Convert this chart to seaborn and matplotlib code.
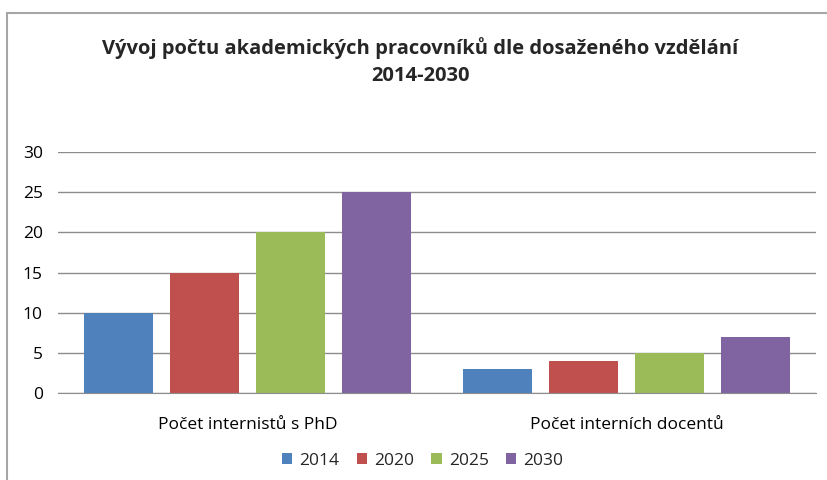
import pandas as pd
import matplotlib.pyplot as plt
import seaborn as sns
from matplotlib.patches import Rectangle

categories = ['Počet internistů s PhD', 'Počet interních docentů']
years = ['2014', '2020', '2025', '2030']
values_2014 = [10, 3]
values_2020 = [15, 4]
values_2025 = [20, 5]
values_2030 = [25, 7]
colors = ['#4F81BD', '#C0504D', '#9BBB59', '#8064A2']

rows = []
for year, vals in zip(years, [values_2014, values_2020, values_2025, values_2030]):
    for cat, v in zip(categories, vals):
        rows.append({'kategorie': cat, 'rok': year, 'hodnota': v})
df = pd.DataFrame(rows)

sns.set_style('white')
plt.rcParams['font.family'] = ['Open Sans', 'DejaVu Sans']

fig = plt.figure(figsize=(8.27, 4.8), dpi=100)
ax = fig.add_axes([0.0701, 0.181, 0.9166, 0.502])

# outer chart frame (cut off at the right and bottom)
fig.patches.append(Rectangle((0.008, -0.05), 1.1, 1.023, transform=fig.transFigure,
                             fill=False, edgecolor='#A6A6A6', linewidth=1.5))

sns.barplot(data=df, x='kategorie', y='hodnota', hue='rok', palette=colors,
            width=0.91, gap=0.2, saturation=1, linewidth=0, ax=ax, legend=True)

ax.set_ylim(0, 30)
ax.set_yticks(range(0, 31, 5))
ax.yaxis.grid(True, color='#8C8C8C', linewidth=1)
ax.set_axisbelow(True)
for s in ax.spines.values():
    s.set_visible(False)
ax.spines['bottom'].set_visible(True)
ax.spines['bottom'].set_color('#8C8C8C')
ax.set_xlabel('')
ax.set_ylabel('')
ax.tick_params(axis='both', length=0, labelsize=12.5, colors='black')
ax.tick_params(axis='y', pad=11)
ax.tick_params(axis='x', pad=17)

fig.text(0.508, 0.872, 'Vývoj počtu akademických pracovníků dle dosaženého vzdělání\n2014-2030',
         ha='center', va='center', fontsize=14.5, fontweight='bold', linespacing=1.5)

handles, labels = ax.get_legend_handles_labels()
ax.legend(handles, labels, loc='center', bbox_to_anchor=(0.511, 0.04), bbox_transform=fig.transFigure,
          ncol=4, frameon=False, fontsize=12.5, handlelength=0.6, handleheight=0.6,
          handletextpad=0.4, columnspacing=1.0)

fig.savefig('out.png', dpi=100)
